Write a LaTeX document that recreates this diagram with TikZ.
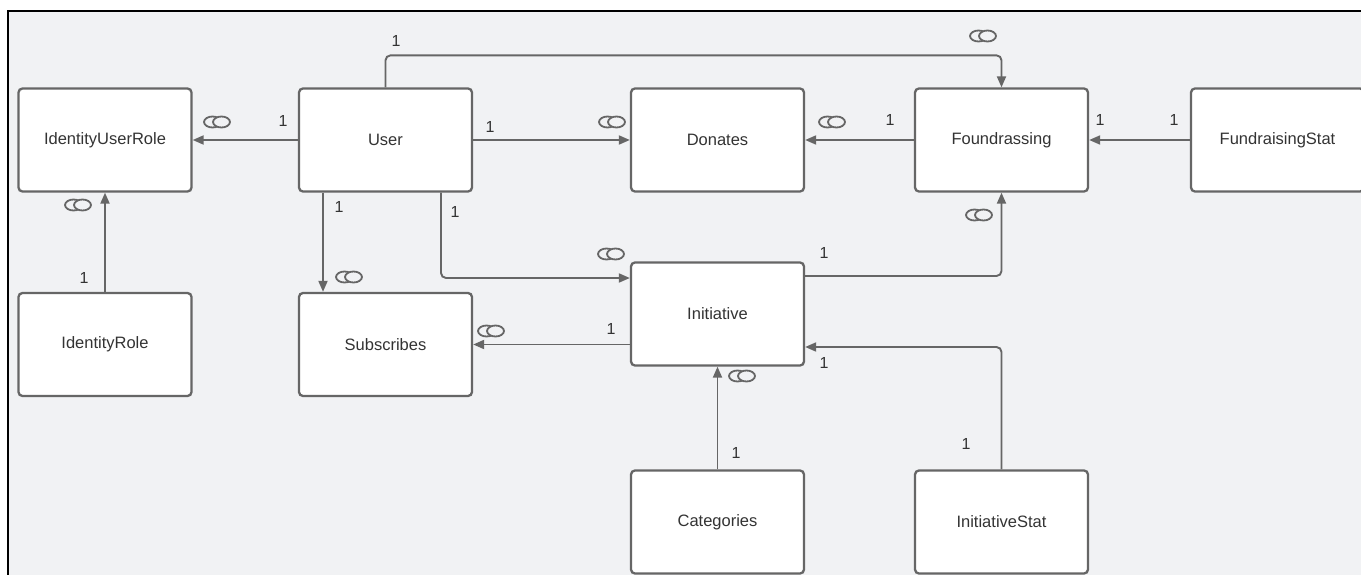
\documentclass[tikz,border=0pt]{standalone}
\usepackage{fontspec}
\setmainfont{Liberation Sans}
\usetikzlibrary{arrows.meta}
\definecolor{bg}{HTML}{F1F2F4}
\definecolor{edge}{HTML}{666666}
\definecolor{txt}{HTML}{333333}
\begin{document}
\begin{tikzpicture}[x=1pt,y=-1pt,
  entity/.style={draw=edge, line width=2.3pt, fill=white, rounded corners=4pt,
    minimum width=173pt, minimum height=103pt, inner sep=0pt,
    font=\fontsize{16.5}{19}\selectfont, text=txt},
  conn/.style={draw=edge, line width=1.9pt, rounded corners=5pt},
  toarrow/.style={conn, -{Triangle[length=11pt,width=9pt]}},
  mult/.style={font=\fontsize{16}{19}\selectfont, text=txt, inner sep=0pt},
  many/.pic={
    \draw[edge, line width=1.8pt] (-4.5,0) ellipse [x radius=8.5, y radius=5.5];
    \draw[edge, line width=1.8pt, fill=bg] (4.5,0) ellipse [x radius=8.5, y radius=5.5];
  }]
\useasboundingbox (0,0) rectangle (1361,575);
\clip (0,0) rectangle (1361,575);

% canvas and frame
\fill[white] (0,0) rectangle (1361,575);
\fill[bg] (8,11) rectangle (1361,575);
\draw[black, line width=2pt] (8,575) -- (8,11) -- (1361,11);

% entities
\node[entity] (IdentityUserRole) at (105,140)    {IdentityUserRole};
\node[entity] (User)             at (385.5,140)  {User};
\node[entity] (Donates)          at (717.5,140)  {Donates};
\node[entity] (Foundrassing)     at (1001.5,140) {Foundrassing};
\node[entity] (FundraisingStat)  at (1277.5,140) {FundraisingStat};
\node[entity] (IdentityRole)     at (105,344.5)  {IdentityRole};
\node[entity] (Subscribes)       at (385.5,344.5){Subscribes};
\node[entity] (Initiative)       at (717.5,314)  {Initiative};
\node[entity] (Categories)       at (717.5,522)  {Categories};
\node[entity] (InitiativeStat)   at (1001.5,522) {InitiativeStat};

% relations
\draw[toarrow] (User.west) -- (IdentityUserRole.east);
\draw[toarrow] (User.east) -- (Donates.west);
\draw[toarrow] (Foundrassing.west) -- (Donates.east);
\draw[toarrow] (FundraisingStat.west) -- (Foundrassing.east);
\draw[toarrow] (User.north) -- ++(0,-32) -| (Foundrassing.north);
\draw[toarrow] ([xshift=-62.5pt]User.south) -- ([xshift=-62.5pt]Subscribes.north);
\draw[toarrow] ([xshift=55.5pt]User.south) |- ([yshift=36pt]Initiative.west);
\draw[toarrow] ([yshift=38pt]Initiative.east) -| (Foundrassing.south);
\draw[toarrow] (Subscribes.east -| Initiative.west) -- (Subscribes.east);
\draw[toarrow] (Categories.north) -- (Initiative.south);
\draw[toarrow] (InitiativeStat.north) |- ([yshift=-33pt]Initiative.east);
\draw[toarrow] (IdentityRole.north) -- (IdentityUserRole.south);

% multiplicities
\node[mult] (m1)  at (283,121) {1};
\pic at (217,122) {many};
\node[mult] (m2)  at (396,41) {1};
\pic at (983,36) {many};
\node[mult] (m3)  at (490,127) {1};
\pic at (612,122) {many};
\pic at (832,122) {many};
\node[mult] (m4)  at (890,120) {1};
\node[mult] (m5)  at (1100,120) {1};
\node[mult] (m6)  at (1174,120) {1};
\pic at (979,215) {many};
\node[mult] (m7)  at (339,207) {1};
\node[mult] (m8)  at (455,212) {1};
\pic at (349,277) {many};
\pic at (611,254) {many};
\node[mult] (m9)  at (824,253) {1};
\node[mult] (m10) at (611,329) {1};
\pic at (491,331) {many};
\node[mult] (m11) at (824,363) {1};
\pic at (742,376) {many};
\node[mult] (m12) at (736,453) {1};
\node[mult] (m13) at (966,444) {1};
\pic at (78,205) {many};
\node[mult] (m14) at (84,278) {1};
\end{tikzpicture}
\end{document}
